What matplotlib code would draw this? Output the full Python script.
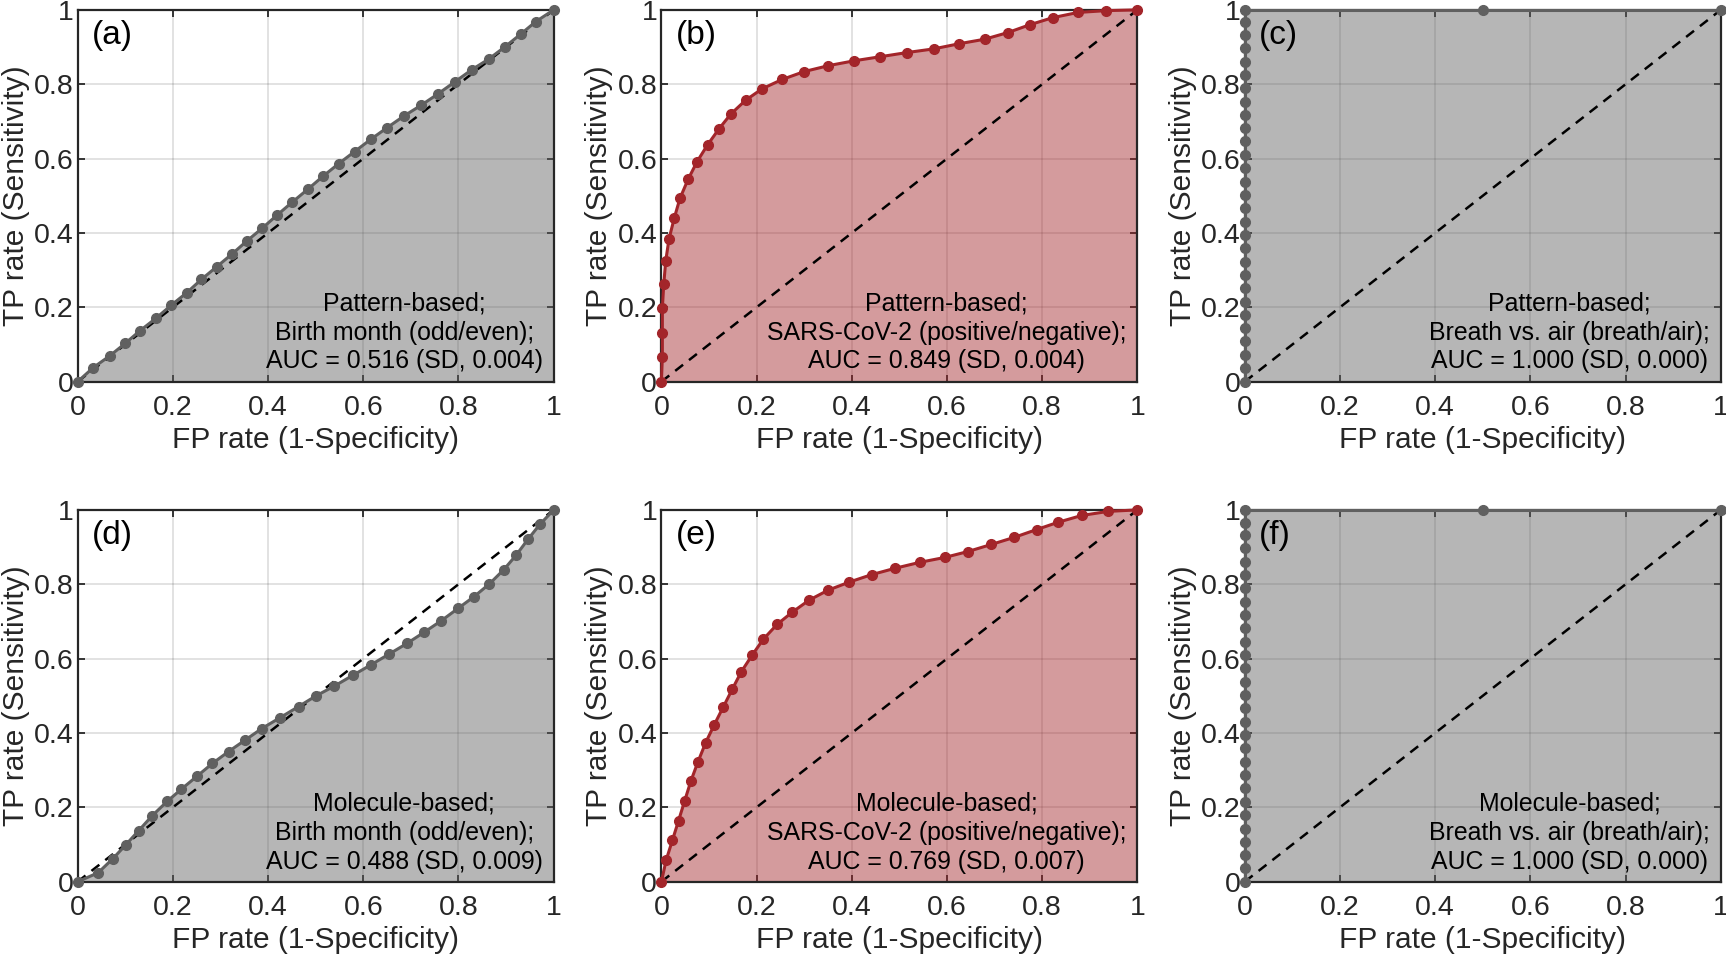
import matplotlib
matplotlib.use("Agg")
import matplotlib.pyplot as plt

plt.rcParams['font.family'] = ['Liberation Sans', 'DejaVu Sans']

# ROC points (FP rate, TP rate)
fpr_a = [0, 0.033, 0.067, 0.100, 0.131, 0.164, 0.197, 0.229, 0.260, 0.292, 0.324, 0.356, 0.388, 0.419, 0.451, 0.483,
         0.515, 0.548, 0.582, 0.616, 0.650, 0.686, 0.721, 0.757, 0.793, 0.828, 0.864, 0.898, 0.931, 0.962, 1]
tpr_a = [0, 0.038, 0.069, 0.103, 0.137, 0.170, 0.206, 0.239, 0.275, 0.309, 0.343, 0.379, 0.413, 0.448, 0.483, 0.517,
         0.552, 0.586, 0.619, 0.652, 0.683, 0.715, 0.743, 0.774, 0.807, 0.839, 0.868, 0.901, 0.935, 0.968, 1]

fpr_b = [0, 0.002, 0.002, 0.002, 0.005, 0.009, 0.016, 0.027, 0.039, 0.056, 0.075, 0.097, 0.121, 0.146, 0.177, 0.212,
         0.254, 0.300, 0.351, 0.405, 0.460, 0.515, 0.572, 0.626, 0.679, 0.728, 0.774, 0.822, 0.875, 0.935, 1]
tpr_b = [0, 0.066, 0.131, 0.198, 0.263, 0.324, 0.384, 0.440, 0.493, 0.544, 0.592, 0.637, 0.680, 0.720, 0.757, 0.788,
         0.813, 0.834, 0.850, 0.863, 0.874, 0.885, 0.895, 0.909, 0.921, 0.939, 0.960, 0.979, 0.993, 0.998, 1]

fpr_c = [0, 0, 0, 0, 0, 0, 0, 0, 0, 0, 0, 0, 0, 0, 0, 0, 0, 0, 0, 0, 0, 0, 0, 0, 0, 0, 0, 0, 0, 0.5, 1]
tpr_c = [0, 0.036, 0.072, 0.108, 0.143, 0.179, 0.215, 0.251, 0.287, 0.323, 0.359, 0.395, 0.430, 0.466, 0.502,
         0.538, 0.574, 0.610, 0.646, 0.682, 0.717, 0.753, 0.789, 0.825, 0.861, 0.897, 0.933, 0.966, 1, 1, 1]

fpr_d = [0, 0.043, 0.074, 0.101, 0.128, 0.157, 0.188, 0.218, 0.251, 0.283, 0.317, 0.352, 0.387, 0.425, 0.464, 0.501,
         0.539, 0.578, 0.617, 0.654, 0.692, 0.728, 0.764, 0.799, 0.833, 0.865, 0.895, 0.921, 0.946, 0.971, 1]
tpr_d = [0, 0.024, 0.062, 0.099, 0.137, 0.178, 0.216, 0.249, 0.284, 0.318, 0.350, 0.381, 0.412, 0.441, 0.471, 0.500,
         0.526, 0.555, 0.584, 0.612, 0.641, 0.671, 0.702, 0.735, 0.767, 0.801, 0.839, 0.878, 0.921, 0.961, 1]

fpr_e = [0, 0.010, 0.023, 0.036, 0.049, 0.062, 0.077, 0.093, 0.111, 0.130, 0.149, 0.168, 0.191, 0.214, 0.243, 0.275,
         0.310, 0.350, 0.395, 0.442, 0.491, 0.543, 0.595, 0.644, 0.693, 0.741, 0.788, 0.834, 0.883, 0.939, 1]
tpr_e = [0, 0.058, 0.111, 0.164, 0.218, 0.271, 0.323, 0.374, 0.422, 0.470, 0.518, 0.565, 0.610, 0.652, 0.692, 0.725,
         0.757, 0.784, 0.806, 0.826, 0.843, 0.859, 0.872, 0.888, 0.907, 0.926, 0.947, 0.967, 0.985, 0.996, 1]

fpr_f = fpr_c
tpr_f = tpr_c

chance = [0, 1]

panel_labels = ["(a)", "(b)", "(c)", "(d)", "(e)", "(f)"]
methods = ["Pattern-based;"] * 3 + ["Molecule-based;"] * 3
tasks = ["Birth month (odd/even);", "SARS-CoV-2 (positive/negative);", "Breath vs. air (breath/air);"] * 2
auc_text = ["AUC = 0.516 (SD, 0.004)", "AUC = 0.849 (SD, 0.004)", "AUC = 1.000 (SD, 0.000)",
            "AUC = 0.488 (SD, 0.009)", "AUC = 0.769 (SD, 0.007)", "AUC = 1.000 (SD, 0.000)"]

ticks = [0, 0.2, 0.4, 0.6, 0.8, 1]
tick_labels = ["0", "0.2", "0.4", "0.6", "0.8", "1"]

gray = "#606060"
red = "#a3252a"
curves = [(fpr_a, tpr_a, gray), (fpr_b, tpr_b, red), (fpr_c, tpr_c, gray),
          (fpr_d, tpr_d, gray), (fpr_e, tpr_e, red), (fpr_f, tpr_f, gray)]

fig = plt.figure(figsize=(17.26, 9.57), dpi=100)
lefts = [0.0450, 0.3832, 0.7212]
bottoms = [0.6012, 0.0787]
w, h = 0.2758, 0.3885
axc = "#262626"

for i, (fpr, tpr, col) in enumerate(curves):
    ax = fig.add_axes([lefts[i % 3], bottoms[i // 3], w, h])
    ax.grid(True, color=axc, alpha=0.15, linewidth=1.3)
    ax.set_axisbelow(True)
    ax.fill_between(fpr, tpr, 0, color=col, alpha=0.46, linewidth=0, zorder=1)
    ax.plot(chance, chance, color="k", linewidth=1.8, dashes=(4, 3), zorder=2)
    ax.plot(fpr, tpr, "-o", color=col, linewidth=2.2, markersize=7, clip_on=False, zorder=3)

    ax.set_xlim(0, 1)
    ax.set_ylim(0, 1)
    ax.set_xticks(ticks)
    ax.set_xticklabels(tick_labels)
    ax.set_yticks(ticks)
    ax.set_yticklabels(tick_labels)
    ax.tick_params(axis="both", direction="in", top=True, right=True, length=5, width=1.3,
                   color=axc, labelcolor=axc, labelsize=20.5)
    ax.tick_params(axis="x", pad=9.5)
    ax.tick_params(axis="y", pad=3)
    for s in ax.spines.values():
        s.set_color(axc)
        s.set_linewidth(1.6)

    ax.set_xlabel("FP rate (1-Specificity)", fontsize=21.5, color=axc, labelpad=4)
    ax.set_ylabel("TP rate (Sensitivity)", fontsize=21.5, color=axc, labelpad=3)

    ax.text(0.03, 0.972, panel_labels[i], transform=ax.transAxes, fontsize=24,
            ha="left", va="top", zorder=4)
    ax.text(0.977, 0.022, methods[i] + "\n" + tasks[i] + "\n" + auc_text[i], transform=ax.transAxes,
            fontsize=17.9, ha="right", va="bottom", multialignment="center", linespacing=1.26, zorder=4)

fig.savefig("out.png", dpi=100)
